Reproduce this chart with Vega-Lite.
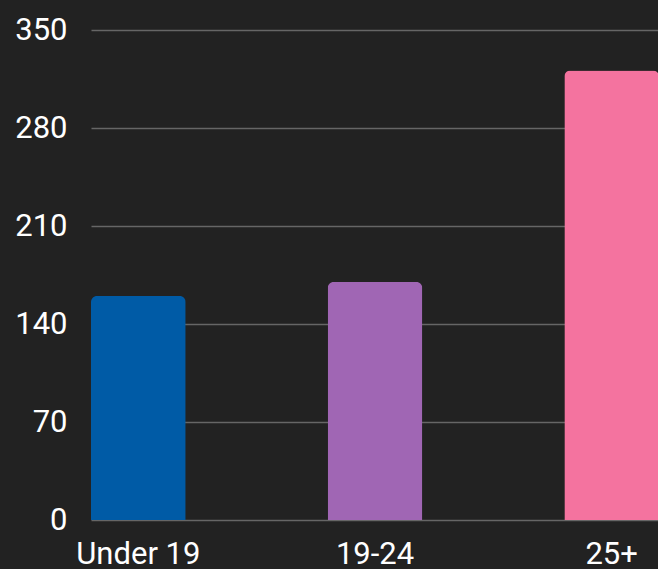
{
  "$schema": "https://vega.github.io/schema/vega-lite/v6.json",
  "width": 568,
  "height": 490,
  "autosize": "none",
  "padding": {"left": 91, "top": 30, "right": 0, "bottom": 49},
  "background": "#222222",
  "data": {"values": [
    {"group": "Under 19", "value": 160, "color": "#005BA6"},
    {"group": "19-24", "value": 170, "color": "#A066B4"},
    {"group": "25+", "value": 321, "color": "#F4739F"}
  ]},
  "mark": {"type": "bar", "cornerRadiusTopLeft": 6, "cornerRadiusTopRight": 6},
  "encoding": {
    "x": {
      "field": "group", "type": "nominal", "sort": null,
      "scale": {"paddingInner": 0.6, "paddingOuter": 0},
      "axis": {"title": null, "labelAngle": 0, "domain": false, "ticks": false,
        "labelFont": "Roboto", "labelFontSize": 31, "labelColor": "#ffffff", "labelPadding": 19, "grid": false}
    },
    "y": {
      "field": "value", "type": "quantitative",
      "scale": {"domain": [0, 350], "nice": false},
      "axis": {"title": null, "values": [0, 70, 140, 210, 280, 350], "domain": false, "ticks": false,
        "labelFont": "Roboto", "labelFontSize": 31, "labelColor": "#ffffff", "labelPadding": 24,
        "grid": true, "gridColor": "#666666", "gridWidth": 1.5}
    },
    "color": {"field": "color", "type": "nominal", "scale": null, "legend": null}
  },
  "config": {"view": {"stroke": null}}
}
